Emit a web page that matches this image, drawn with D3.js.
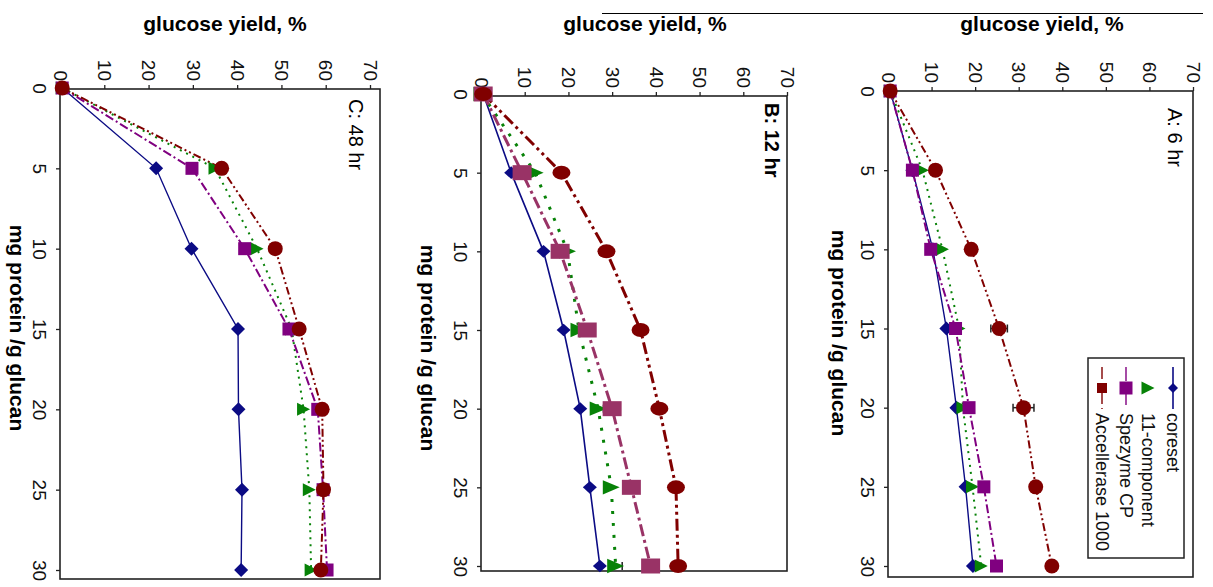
<!DOCTYPE html>
<html>
<head>
<meta charset="utf-8">
<script src="https://cdn.jsdelivr.net/npm/d3@7"></script>
<style>
body { margin: 0; background: #fff; }
svg { display: block; font-family: "Liberation Sans", Arial, sans-serif; }
</style>
</head>
<body>
<div id="chart"></div>
<script>
// ---- data ----
var doses = [0, 5, 10, 15, 20, 25, 30];
var doseTicks = [0, 5, 10, 15, 20, 25, 30];
var yieldTicks = [0, 10, 20, 30, 40, 50, 60, 70];
var seriesNames = ["coreset", "11-component", "Spezyme CP", "Accellerase 1000"];

// A: 6 hr
var coreset6 = [0.5, 5.6, 10.3, 13.4, 15.7, 17.8, 19.5];
var comp11_6 = [0.5, 7.9, 12.5, 16.3, 17.2, 19.4, 21.4];
var spezyme6 = [0.5, 5.6, 9.8, 15.5, 18.6, 22.0, 24.9];
var accell6 = [0.5, 10.9, 19.1, 25.5, 31.1, 33.9, 37.6];
var accell6Err = [0, 0, 0, 1.9, 2.4, 0, 0];

// B: 12 hr
var coreset12 = [0.5, 6.9, 14.3, 18.9, 22.7, 24.9, 27.2];
var comp11_12 = [0.2, 12.4, 19.8, 22.4, 26.8, 29.8, 30.8];
var spezyme12 = [0.5, 9.4, 18.1, 24.3, 30.0, 34.4, 38.8];
var accell12 = [0.5, 18.4, 28.7, 36.5, 40.8, 44.6, 45.1];
var comp11_12Err = [0, 0, 0, 0, 1.2, 0, 1.5];

// C: 48 hr
var coreset48 = [0.5, 21.7, 29.7, 40.2, 40.3, 41.1, 40.9];
var comp11_48 = [0.5, 35.0, 44.5, 52.3, 55.0, 56.3, 56.7];
var spezyme48 = [0.5, 29.8, 41.7, 51.7, 58.2, 59.4, 60.3];
var accell48 = [0.5, 36.5, 48.6, 54.0, 59.2, 59.5, 58.9];

var colors = ["#0b0b84", "#078207", "#800080", "#800000"];
var shapes = ["diamond", "triangle", "square", "circle"];

var width = 1213, height = 587;

// panel layout (the whole figure is turned a quarter turn clockwise)
var panels = [
    {title: "C: 48 hr", bold: false, ys: [coreset48, comp11_48, spezyme48, accell48], err: [null, null, null, null],
     left: 60, right: 380, top: 89, bottom: 579, y70: 370, d0: 88, d30: 570,
     titleX: 349, titleY: 99, xTitle: 225, dTitleX: 10, dTitleY: 328, heavy: false, purple: "#800080"},
    {title: "B: 12 hr", bold: true, ys: [coreset12, comp11_12, spezyme12, accell12], err: [null, comp11_12Err, null, null],
     left: 481, right: 787, top: 96, bottom: 571, y70: 787, d0: 94, d30: 566,
     titleX: 765, titleY: 103, xTitle: 645, dTitleX: 421, dTitleY: 348, heavy: true, purple: "#993366"},
    {title: "A: 6 hr", bold: false, ys: [coreset6, comp11_6, spezyme6, accell6], err: [null, null, null, accell6Err],
     left: 888, right: 1193, top: 91, bottom: 577, y70: 1193, d0: 91, d30: 566,
     titleX: 1168, titleY: 108, xTitle: 1042, dTitleX: 832, dTitleY: 333, heavy: false, purple: "#800080", legend: true}
];

var svg = d3.select("#chart").append("svg")
    .attr("width", width)
    .attr("height", height);

// stray rule at the very top of the scan
svg.append("line")
    .attr("x1", 602).attr("x2", 1203)
    .attr("y1", 13.5).attr("y2", 13.5)
    .attr("stroke", "#000").attr("stroke-width", 1);

function markerPath(shape, big) {
    var k = big ? 1.3 : 1;
    if (shape == "diamond") {
        var w = 7, h = 7 * (big ? 0.9 : 1);
        return "M0," + (-h) + "L" + w + ",0L0," + h + "L" + (-w) + ",0Z";
    }
    if (shape == "triangle") {
        var tw = 6.5 * k, th = 6.5 * (big ? 1.1 : 1);
        return "M" + (-tw) + "," + (-th) + "L" + tw + ",0L" + (-tw) + "," + th + "Z";
    }
    if (shape == "square") {
        var sw = big ? 9.5 : 6.5, sh = big ? 7.5 : 6.5;
        return "M" + (-sw) + "," + (-sh) + "H" + sw + "V" + sh + "H" + (-sw) + "Z";
    }
    var rx = big ? 9 : 7.5, ry = big ? 7 : 7.5;
    return "M" + (-rx) + ",0A" + rx + "," + ry + " 0 1,0 " + rx + ",0A" + rx + "," + ry + " 0 1,0 " + (-rx) + ",0Z";
}

function dashFor(i, heavy) {
    if (i == 0) return null;
    if (i == 1) return heavy ? "3,9" : "2,5";
    if (i == 2) return heavy ? "12,4,3,4" : "9,3,2,3";
    return heavy ? "12,4,3,4,3,4" : "8,3,2,3,2,3";
}

panels.forEach(function(p) {
    var g = svg.append("g");

    // yield runs to the right, dose runs downward
    var yScale = d3.scaleLinear().domain([0, 70]).range([p.left, p.y70]);
    var dScale = d3.scaleLinear().domain([0, 30]).range([p.d0, p.d30]);
    var cols = colors.slice();
    cols[2] = p.purple;

    // frame
    g.append("rect")
        .attr("x", p.left).attr("y", p.top)
        .attr("width", p.right - p.left).attr("height", p.bottom - p.top)
        .attr("fill", "none").attr("stroke", "#222").attr("stroke-width", 1.6);

    // yield axis (top)
    var yAxis = d3.axisTop(yScale).tickValues(yieldTicks).tickSize(4);
    var ya = g.append("g")
        .attr("transform", "translate(0," + p.top + ")")
        .call(yAxis);
    ya.select(".domain").remove();
    ya.selectAll("line").attr("stroke", "#222").attr("stroke-width", 1.3);
    ya.selectAll("text")
        .attr("transform", "rotate(90)")
        .attr("x", -8).attr("y", 0).attr("dy", "0.36em")
        .style("text-anchor", "end")
        .attr("fill", "#111")
        .attr("font-size", 19)
        .attr("font-family", "Liberation Sans, Arial, sans-serif");

    // dose axis (left)
    var dAxis = d3.axisLeft(dScale).tickValues(doseTicks).tickSize(4);
    var da = g.append("g")
        .attr("transform", "translate(" + p.left + ",0)")
        .call(dAxis);
    da.select(".domain").remove();
    da.selectAll("line").attr("stroke", "#222").attr("stroke-width", 1.3);
    da.selectAll("text")
        .attr("transform", "rotate(90)")
        .attr("x", 0).attr("y", 27).attr("dy", 0)
        .style("text-anchor", "middle")
        .attr("fill", "#111")
        .attr("font-size", 19)
        .attr("font-family", "Liberation Sans, Arial, sans-serif");

    // axis titles
    g.append("text")
        .attr("x", p.xTitle).attr("y", 31)
        .attr("text-anchor", "middle")
        .attr("font-size", 21).attr("font-weight", "bold")
        .text("glucose yield, %");

    g.append("text")
        .attr("transform", "translate(" + p.dTitleX + "," + p.dTitleY + ") rotate(90)")
        .attr("text-anchor", "middle")
        .attr("font-size", 21).attr("font-weight", "bold")
        .text("mg protein /g glucan");

    // panel title
    g.append("text")
        .attr("transform", "translate(" + p.titleX + "," + p.titleY + ") rotate(90)")
        .attr("font-size", 20)
        .attr("font-weight", p.bold ? "bold" : "normal")
        .text(p.title);

    var line = d3.line()
        .x(function(d) { return yScale(d.v); })
        .y(function(d) { return dScale(d.dose); });

    var seriesData = p.ys.map(function(arr, i) {
        return arr.map(function(v, j) {
            return {dose: doses[j], v: v, e: p.err[i] ? p.err[i][j] : 0};
        });
    });

    // lines
    seriesData.forEach(function(sd, i) {
        g.append("path")
            .datum(sd)
            .attr("fill", "none")
            .attr("stroke", cols[i])
            .attr("stroke-width", i == 0 ? (p.heavy ? 1.6 : 1.4) : (p.heavy ? 3 : 2))
            .attr("stroke-dasharray", dashFor(i, p.heavy))
            .attr("d", line);
    });

    // error bars
    seriesData.forEach(function(sd, i) {
        var eb = g.selectAll(".err" + i)
            .data(sd.filter(function(d) { return d.e > 0; }))
            .enter().append("g").attr("class", "err" + i);
        eb.append("line")
            .attr("x1", function(d) { return yScale(d.v - d.e); })
            .attr("x2", function(d) { return yScale(d.v + d.e); })
            .attr("y1", function(d) { return dScale(d.dose); })
            .attr("y2", function(d) { return dScale(d.dose); })
            .attr("stroke", "#222").attr("stroke-width", 1.5);
        [-1, 1].forEach(function(s) {
            eb.append("line")
                .attr("x1", function(d) { return yScale(d.v + s * d.e); })
                .attr("x2", function(d) { return yScale(d.v + s * d.e); })
                .attr("y1", function(d) { return dScale(d.dose) - 4; })
                .attr("y2", function(d) { return dScale(d.dose) + 4; })
                .attr("stroke", "#222").attr("stroke-width", 1.5);
        });
    });

    // markers
    seriesData.forEach(function(sd, i) {
        g.selectAll(".mk" + i)
            .data(sd)
            .enter().append("path")
            .attr("class", "mk" + i)
            .attr("transform", function(d) { return "translate(" + yScale(d.v) + "," + dScale(d.dose) + ")"; })
            .attr("d", markerPath(shapes[i], p.heavy))
            .attr("fill", cols[i]);
    });

    // legend (panel A only)
    if (p.legend) {
        var lg = g.append("g");
        lg.append("rect")
            .attr("x", 1088).attr("y", 358)
            .attr("width", 96).attr("height", 200)
            .attr("fill", "#fff").attr("stroke", "#222").attr("stroke-width", 1.5);
        var colX = [1173, 1148, 1126, 1102];
        seriesNames.forEach(function(name, i) {
            if (i != 1) {
                lg.append("line")
                    .attr("x1", colX[i]).attr("x2", colX[i])
                    .attr("y1", 367).attr("y2", 409)
                    .attr("stroke", cols[i])
                    .attr("stroke-width", i == 0 ? 1.6 : 1.4)
                    .attr("stroke-dasharray", i == 0 ? null : (i == 2 ? "14,4,2,4" : "12,4,3,6"));
            }
            lg.append("path")
                .attr("transform", "translate(" + colX[i] + ",388)")
                .attr("d", i == 3 ? "M-5,-5H5V5H-5Z" : (i == 0 ? "M0,-5L5,0L0,5L-5,0Z" : markerPath(shapes[i], false)))
                .attr("fill", cols[i]);
            lg.append("text")
                .attr("transform", "translate(" + (colX[i] - 6.5) + ",413) rotate(90)")
                .attr("font-size", 18)
                .attr("fill", "#111")
                .text(name);
        });
    }
});
</script>
</body>
</html>
